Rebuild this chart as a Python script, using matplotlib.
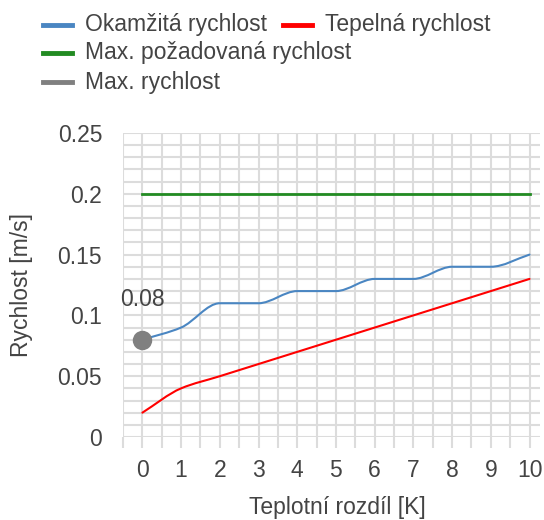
import numpy as np
import matplotlib
matplotlib.use("Agg")
import matplotlib.pyplot as plt
from matplotlib.path import Path
from matplotlib.patches import PathPatch
from matplotlib.lines import Line2D

# ---- data ----
x_vals = [0, 1, 2, 3, 4, 5, 6, 7, 8, 9, 10]
okamzita = [0.08, 0.09, 0.11, 0.11, 0.12, 0.12, 0.13, 0.13, 0.14, 0.14, 0.15]
tepelna = [0.02, 0.04, 0.05, 0.06, 0.07, 0.08, 0.09, 0.10, 0.11, 0.12, 0.13]
max_pozadovana = [0.2] * 11
max_rychlost_x = [0]
max_rychlost_y = [0.08]
max_rychlost_label = "0.08"
x_ticks = [0, 1, 2, 3, 4, 5, 6, 7, 8, 9, 10]
y_ticks = [0, 0.05, 0.1, 0.15, 0.2, 0.25]
y_tick_labels = ["0", "0.05", "0.1", "0.15", "0.2", "0.25"]
series_names = ["Okamžitá rychlost", "Tepelná rychlost",
                "Max. požadovaná rychlost", "Max. rychlost"]
x_title = "Teplotní rozdíl [K]"
y_title = "Rychlost [m/s]"

C_BLUE = "#4a86c2"
C_RED = "#ff0000"
C_GREEN = "#228b22"
C_GRAY = "#808080"
TXT = "#444444"
GRID = "#dcdcdc"
FS = 16.5

plt.rcParams['font.family'] = ['Liberation Sans', 'DejaVu Sans']

W, H = 544, 520
fig = plt.figure(figsize=(W / 100, H / 100), dpi=100)
L, R, B, T = 123, 540, 437, 133
ax = fig.add_axes([L / W, 1 - B / H, (R - L) / W, (B - T) / H])
ax.set_xlim(-0.5, 10.27)
ax.set_ylim(0, 0.25)


def smooth_path(xs, ys):
    xs = np.asarray(xs, float)
    ys = np.asarray(ys, float)
    n = len(xs)
    h = np.diff(xs)
    d = np.diff(ys) / h
    m = np.zeros(n)
    m[0] = d[0]
    m[-1] = d[-1]
    for i in range(1, n - 1):
        if d[i - 1] * d[i] <= 0:
            m[i] = 0
        else:
            m[i] = 2 / (1 / d[i - 1] + 1 / d[i])
    verts = [(xs[0], ys[0])]
    codes = [Path.MOVETO]
    for i in range(n - 1):
        verts += [(xs[i] + h[i] / 3, ys[i] + m[i] * h[i] / 3),
                  (xs[i + 1] - h[i] / 3, ys[i + 1] - m[i + 1] * h[i] / 3),
                  (xs[i + 1], ys[i + 1])]
        codes += [Path.CURVE4] * 3
    return Path(verts, codes)


ax.add_patch(PathPatch(smooth_path(x_vals, okamzita), fill=False,
                       edgecolor=C_BLUE, lw=1.5, zorder=3, capstyle='round'))
ax.add_patch(PathPatch(smooth_path(x_vals, tepelna), fill=False,
                       edgecolor=C_RED, lw=1.5, zorder=3, capstyle='round'))
ax.plot(x_vals, max_pozadovana, color=C_GREEN, lw=2.0, zorder=3)
ax.plot(max_rychlost_x, max_rychlost_y, 'o', color=C_GRAY, ms=14, zorder=4,
        markeredgewidth=0)
ax.annotate(max_rychlost_label, (max_rychlost_x[0], max_rychlost_y[0]),
            xytext=(0, 29), textcoords='offset points', ha='center',
            va='center', fontsize=FS, color=TXT)

# ticks: labelled majors, grid minors
ax.set_xticks(x_ticks)
ax.set_xticklabels([str(v) for v in x_ticks])
ax.set_yticks(y_ticks)
ax.set_yticklabels(y_tick_labels)
ax.set_xticks(np.arange(-0.5, 10.01, 0.5), minor=True)
ax.set_yticks(np.arange(0, 0.2501, 0.01), minor=True)
ax.grid(True, which='both', color=GRID, lw=1.5, zorder=0)
ax.set_axisbelow(True)
ax.tick_params(axis='both', which='both', labelsize=FS, labelcolor=TXT)
ax.tick_params(axis='y', which='both', length=0, pad=15)
ax.tick_params(axis='x', which='both', length=8, width=1.5, color=GRID,
               pad=8)
for s in ax.spines.values():
    s.set_visible(False)

ax.set_xlabel(x_title, fontsize=FS, color=TXT)
ax.set_ylabel(y_title, fontsize=FS, color=TXT)
ax.yaxis.set_label_coords((33 - L) / (R - L), 0.5)
ax.xaxis.set_label_coords((337 - L) / (R - L), -(496 - B) / (B - T))

# legend (flow layout)
leg_items = [
    (series_names[0], C_BLUE, 43, 25),
    (series_names[1], C_RED, 283, 25),
    (series_names[2], C_GREEN, 43, 53),
    (series_names[3], C_GRAY, 43, 82),
]
for name, col, px, py in leg_items:
    fig.add_artist(Line2D([px / W, (px + 29) / W], [1 - py / H, 1 - py / H],
                          color=col, lw=3.5, transform=fig.transFigure))
    fig.text((px + 42) / W, 1 - py / H, name, fontsize=FS, color=TXT,
             va='center', ha='left')

fig.savefig("out.png", dpi=100)
